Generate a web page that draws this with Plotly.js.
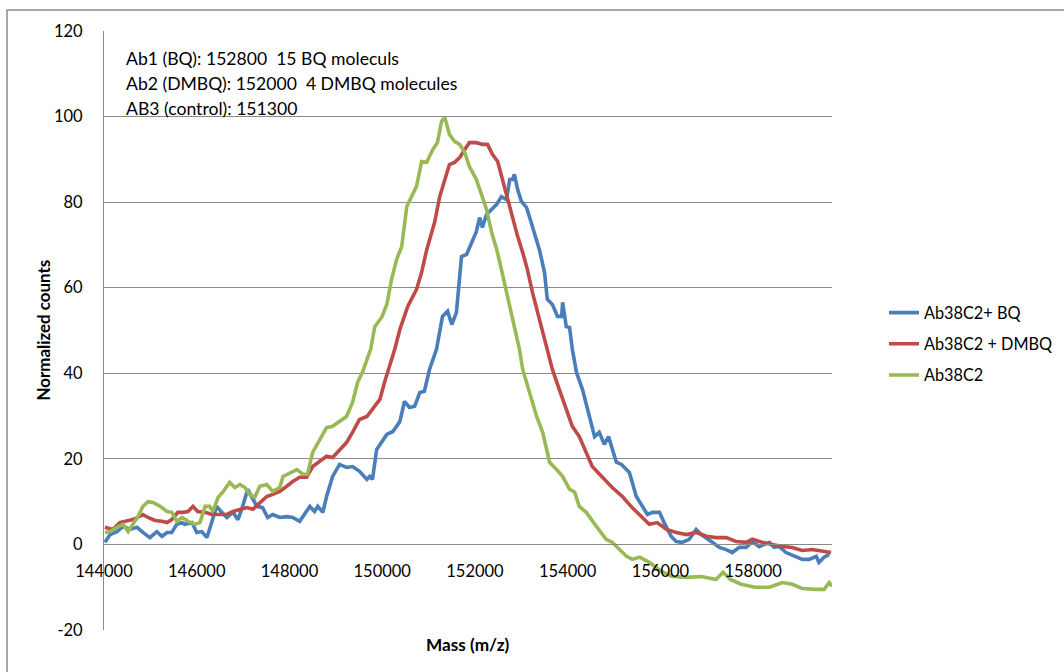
<!DOCTYPE html>
<html>
<head>
<meta charset="utf-8">
<script src="https://cdn.plot.ly/plotly-3.0.1.min.js"></script>
<style>html,body{margin:0;padding:0;background:#fff;}#chart{width:1064px;height:672px;}</style>
</head>
<body>
<div id="chart"></div>
<script>
// ---- Data ----
var seriesNames = ["Ab38C2+ BQ", "Ab38C2 + DMBQ", "Ab38C2"];

var bqMass = [144020,144130,144280,144410,144560,144710,144840,144990,145140,145250,145360,145460,145570,145680,145740,145900,146000,146110,146220,146330,146430,146540,146650,146780,146890,146990,147100,147190,147300,147420,147530,147640,147790,147940,148070,148220,148330,148440,148540,148610,148720,148800,148930,149080,149230,149360,149510,149670,149730,149790,149880,149990,150100,150230,150380,150480,150590,150700,150810,150910,151020,151170,151300,151410,151500,151600,151710,151820,151930,152030,152100,152160,152250,152360,152470,152570,152680,152750,152810,152850,152920,153000,153110,153180,153280,153390,153500,153560,153670,153780,153870,153890,153970,154040,154100,154190,154320,154470,154580,154680,154790,154880,154960,155050,155160,155330,155480,155610,155720,155830,155980,156080,156230,156340,156470,156620,156770,156880,157010,157120,157270,157420,157550,157700,157850,157980,158130,158350,158450,158560,158710,158930,159060,159210,159360,159420,159530,159640];
var bqCounts = [0.5,2.3,3.0,4.2,3.5,4.0,2.8,1.6,3.0,1.9,2.8,2.8,4.7,5.1,4.7,5.1,2.8,3.0,1.6,5.1,8.9,7.5,6.3,7.5,5.8,8.9,12.9,11.0,8.9,8.6,6.3,7.0,6.3,6.5,6.3,5.4,7.0,8.9,7.7,8.9,7.5,11.2,15.9,18.7,18.0,18.2,17.1,15.2,15.9,15.2,22.2,24.1,25.7,26.4,28.7,33.4,32.0,32.3,35.5,35.8,40.9,45.6,53.3,54.5,51.4,54.2,67.3,67.8,70.6,73.1,76.4,74.1,77.1,78.3,79.5,81.3,80.6,85.3,85.3,86.5,83.0,80.2,78.8,76.4,72.9,68.9,63.6,57.3,56.1,53.3,53.3,56.6,50.9,50.7,45.6,40.2,36.2,29.9,25.2,26.2,23.4,25.2,22.2,19.2,18.7,16.8,11.2,8.9,7.0,7.5,7.5,5.1,1.9,0.7,0.5,1.2,3.5,2.3,1.2,0.5,-0.7,-1.2,-1.9,-0.7,-0.7,0.7,-0.5,0.5,-0.7,-0.5,-1.9,-3.0,-3.5,-3.5,-2.8,-4.2,-3.0,-2.3];

var dmbqMass = [144020,144190,144340,144500,144620,144730,144840,144950,145100,145250,145360,145460,145590,145700,145810,145920,146020,146180,146330,146460,146650,146780,146930,147080,147210,147360,147510,147640,147790,147940,148070,148220,148370,148500,148650,148800,148930,149080,149230,149360,149510,149670,149790,149950,150050,150160,150270,150380,150550,150740,150850,150960,151020,151130,151240,151350,151450,151560,151670,151780,151880,152030,152160,152270,152380,152490,152590,152700,152810,152920,153030,153130,153240,153350,153460,153560,153670,153820,153970,154100,154250,154400,154530,154750,154960,155180,155390,155610,155760,155930,156130,156340,156560,156770,156990,157200,157420,157630,157850,157980,158190,158410,158630,158840,159060,159270,159490,159680];
var dmbqCounts = [4.0,3.5,5.1,5.4,5.8,6.3,7.0,6.3,5.6,5.4,5.1,5.8,7.5,7.5,7.7,8.9,7.7,7.5,7.0,7.0,7.0,7.7,8.2,8.6,8.2,9.8,11.2,11.7,12.4,13.6,14.7,15.7,15.7,18.2,19.4,20.6,20.3,22.2,23.8,26.2,29.2,29.9,31.5,33.9,37.9,41.6,45.6,50.2,55.6,59.6,63.6,68.9,71.3,75.3,81.3,85.3,88.8,89.3,90.4,92.3,93.9,93.9,93.5,93.5,91.1,89.5,85.3,81.3,76.7,72.0,68.2,64.3,58.9,54.2,49.5,45.6,40.9,36.2,31.5,27.6,25.2,21.5,18.2,15.7,13.3,11.2,8.6,6.3,4.7,5.1,3.5,2.8,2.3,2.8,1.9,1.6,1.6,0.7,0.5,1.2,0.5,0.0,-0.5,-0.7,-1.4,-1.2,-1.6,-1.9];

var ctrlMass = [144020,144130,144280,144410,144520,144620,144730,144840,144950,145060,145210,145360,145460,145570,145680,145810,145960,146070,146180,146280,146350,146460,146560,146710,146820,146930,147040,147140,147250,147360,147510,147640,147790,147860,148010,148160,148290,148390,148500,148650,148800,148930,149080,149230,149360,149470,149580,149690,149750,149840,149990,150100,150200,150310,150420,150530,150630,150740,150850,150960,151090,151190,151280,151350,151450,151560,151670,151780,151880,152030,152140,152250,152360,152470,152570,152680,152790,152900,152960,153030,153180,153330,153460,153610,153760,153890,154040,154150,154250,154400,154620,154830,154960,155270,155390,155550,155760,156020,156260,156580,156880,157200,157350,157510,157740,158040,158350,158630,158840,159060,159360,159530,159640,159700];
var ctrlCounts = [2.8,3.0,4.0,4.7,3.0,4.7,6.5,8.9,10.0,9.8,8.9,7.7,7.5,5.4,6.3,5.4,4.7,5.1,8.9,8.9,7.7,11.0,12.2,14.5,13.3,14.0,13.3,11.7,11.0,13.6,14.0,12.4,13.3,15.9,16.8,17.5,16.4,16.4,21.5,24.5,27.3,27.6,28.7,29.9,33.2,37.9,40.4,43.9,45.6,50.9,53.1,56.1,61.9,66.6,69.6,79.0,81.1,83.7,89.5,89.3,92.3,93.9,98.9,99.8,95.8,94.2,93.5,91.6,88.3,85.3,81.8,78.3,72.9,68.9,64.3,58.9,53.3,48.6,45.6,40.9,35.5,29.9,26.2,19.2,17.5,15.9,12.9,12.2,8.9,7.5,4.2,1.2,0.5,-2.8,-3.5,-3.0,-4.2,-6.3,-7.5,-7.7,-7.5,-8.2,-6.5,-8.2,-9.3,-10.0,-10.0,-8.9,-9.3,-10.3,-10.5,-10.5,-8.9,-9.8];

var xTicks = [144000,146000,148000,150000,152000,154000,156000,158000];
var yTicks = [-20,0,20,40,60,80,100,120];
var noteLines = ["Ab1 (BQ): 152800\u00a0\u00a015 BQ moleculs", "Ab2 (DMBQ): 152000\u00a0\u00a04 DMBQ molecules", "AB3 (control): 151300"];
var xTitle = "Mass (m/z)";
var yTitle = "Normalized counts";

// ---- Styling ----
var colors = ["#4a7ebb", "#be4b48", "#98b954"];
var FONT = "Lato, 'Open Sans', sans-serif";
var GRID = "#8a8a8a";
var xMin = 144000, xMax = 159700, yMin = -20, yMax = 120;

var masses = [bqMass, dmbqMass, ctrlMass];
var counts = [bqCounts, dmbqCounts, ctrlCounts];
var traces = seriesNames.map(function (n, i) {
  return {
    type: "scatter", mode: "lines", name: n,
    x: masses[i], y: counts[i],
    line: {color: colors[i], width: 3.6},
    legendgroup: "g" + i,
    hoverinfo: "x+y+name"
  };
});

var annotations = noteLines.map(function (t, i) {
  return {
    text: t, xref: "paper", yref: "paper",
    x: (124 - 104) / 728, y: (630 - (58 + i * 25)) / 599,
    xanchor: "left", yanchor: "middle", showarrow: false,
    font: {family: FONT, size: 17.6, color: "#000"}
  };
});
annotations.push({
  text: "<b>" + xTitle + "</b>", xref: "paper", yref: "paper",
  x: 0.5, y: (630 - 645) / 599, xanchor: "center", yanchor: "middle",
  showarrow: false, font: {family: FONT, size: 17.2, color: "#000"}
});
annotations.push({
  text: "<b>" + yTitle + "</b>", xref: "paper", yref: "paper",
  x: (43 - 104) / 728, y: 0.5, xanchor: "center", yanchor: "middle",
  textangle: -90, showarrow: false, font: {family: FONT, size: 16.9, color: "#000"}
});

var layout = {
  width: 1064, height: 672,
  margin: {l: 104, r: 232, t: 31, b: 42, pad: 0, autoexpand: false},
  paper_bgcolor: "#fff", plot_bgcolor: "#fff",
  font: {family: FONT, size: 16.5, color: "#000"},
  showlegend: true,
  legend: {
    x: (884 - 104) / 728, y: (630 - 344) / 599, xanchor: "left", yanchor: "middle",
    font: {family: FONT, size: 16.3, color: "#000"},
    tracegroupgap: 7, bgcolor: "rgba(0,0,0,0)", itemwidth: 30
  },
  xaxis: {
    range: [xMin, xMax], tickvals: xTicks, ticktext: xTicks.map(String),
    showgrid: false, zeroline: false, showline: true, linecolor: GRID, linewidth: 1,
    anchor: "free", position: (0 - yMin) / (yMax - yMin),
    ticks: "", ticklabelstandoff: 12,
    tickfont: {family: FONT, size: 16.5, color: "#000"}
  },
  yaxis: {
    range: [yMin, yMax], tickvals: yTicks, ticktext: yTicks.map(String),
    showgrid: true, gridcolor: GRID, gridwidth: 1, zeroline: false,
    showline: true, linecolor: GRID, linewidth: 1,
    ticks: "", ticklabelstandoff: 17,
    tickfont: {family: FONT, size: 16.5, color: "#000"}
  },
  annotations: annotations,
  shapes: [{
    type: "rect", xref: "paper", yref: "paper",
    x0: (7 - 104) / 728, x1: (1080 - 104) / 728,
    y0: (630 - 690) / 599, y1: (630 - 10) / 599,
    line: {color: "#8c8c8c", width: 1.5}, fillcolor: "rgba(0,0,0,0)", layer: "below"
  }]
};

Plotly.newPlot("chart", traces, layout, {displayModeBar: false, staticPlot: true});
</script>
</body>
</html>
